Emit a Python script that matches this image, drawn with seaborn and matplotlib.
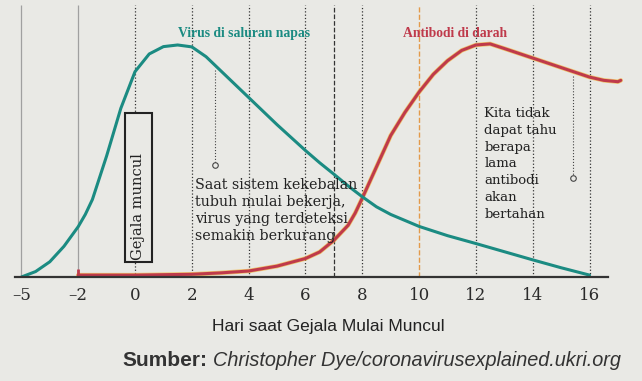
import numpy as np
import pandas as pd
import seaborn as sns
import matplotlib.pyplot as plt
from matplotlib.patches import Rectangle

# ---- data (x = axis position; the "-5" tick sits one step left of "-2") ----
tick_pos = [-4, -2, 0, 2, 4, 6, 8, 10, 12, 14, 16]
tick_labels = ['\u20135', '\u20132', '0', '2', '4', '6', '8', '10', '12', '14', '16']

virus_x = [-4, -3.5, -3, -2.5, -2, -1.75, -1.5, -1, -0.5, 0, 0.5, 1, 1.5, 2,
           2.5, 3, 3.5, 4, 5, 6, 6.5, 7, 7.5, 8, 8.5, 9, 10, 11, 12, 13, 14,
           15, 16]
virus_y = [0, 2, 5.6, 11.3, 18.5, 23, 28.5, 44.5, 62, 75.5, 82, 84.7, 85.3,
           84.6, 81, 76, 71, 66, 56, 46.5, 42, 37.8, 33.5, 29.5, 25.8, 23,
           18.6, 15.2, 12.3, 9.3, 6.3, 3.4, 0.7]

anti_x = [-2, 0, 2, 3, 4, 5, 6, 6.5, 7, 7.5, 7.75, 8, 8.5, 9, 9.5, 10, 10.5,
          11, 11.5, 12, 12.5, 13, 14, 15, 16, 16.5, 17, 17.1]
anti_y = [0.7, 0.7, 1, 1.5, 2.2, 4, 6.8, 9.2, 13.5, 19, 23.5, 29, 40.5, 52,
          60.5, 68, 74.5, 79.5, 83.3, 85.3, 85.7, 84, 80.5, 77, 73.5, 72.3,
          71.8, 72.3]

grid_solid = [-4, -2]
grid_dotted = [0, 2, 4, 6, 8, 12, 14, 16]
grid_dashed = [7]
grid_orange = [10]

virus_df = pd.DataFrame({'hari': virus_x, 'nilai': virus_y})
anti_df = pd.DataFrame({'hari': anti_x, 'nilai': anti_y})

# ---- style ----
sns.set_theme(style='white')
plt.rcParams['font.family'] = ['DejaVu Serif']
bg = '#e9e9e5'
teal = '#1b8b82'
red = '#bf3a4b'
ink = '#222222'

fig = plt.figure(figsize=(6.42, 3.81), dpi=100, facecolor=bg)
ax = fig.add_axes([15 / 642, 1 - 277 / 381, 593 / 642, 272 / 381])
ax.set_facecolor(bg)
ax.set_xlim(-4.225, 16.65)
ax.set_ylim(0, 100)

# vertical guide lines
ax.vlines(grid_solid, 0, 100, color='#a0a0a0', lw=0.9)
ax.vlines(grid_dotted, 0, 100, color='#333333', lw=0.9, linestyles=':')
ax.vlines(grid_dashed, 0, 100, color='#333333', lw=0.9, linestyles='--')
ax.vlines(grid_orange, 0, 100, color='#e39a4a', lw=1.0, linestyles='--')

# curves
sns.lineplot(data=anti_df, x='hari', y='nilai', ax=ax, color='#f2b53a',
             lw=3.2, alpha=0.7, clip_on=False)
sns.lineplot(data=anti_df, x='hari', y='nilai', ax=ax, color=red, lw=2.2,
             clip_on=False)
ax.vlines([-2], 0, 3, color=red, lw=2)
sns.lineplot(data=virus_df, x='hari', y='nilai', ax=ax, color=teal, lw=2.2)

# axis
for s in ['left', 'right', 'top']:
    ax.spines[s].set_visible(False)
ax.spines['bottom'].set_color('#333333')
ax.spines['bottom'].set_linewidth(1.6)
ax.set_xticks(tick_pos)
ax.set_xticklabels(tick_labels, fontsize=12, color='#2a2a2a')
ax.set_yticks([])
ax.tick_params(axis='x', direction='in', length=6, width=1.4,
               color='#333333', pad=7)
ax.set_xlabel('')
ax.set_ylabel('')

# curve titles
ax.text(3.85, 89.7, 'Virus di saluran napas', color=teal, fontsize=9.8,
        fontweight='bold', ha='center', va='center', family=['Liberation Serif'])
ax.text(11.25, 89.7, 'Antibodi di darah', color=red, fontsize=9.8,
        fontweight='bold', ha='center', va='center', family=['Liberation Serif'])

# "Gejala muncul" box
ax.add_patch(Rectangle((-0.35, 5.5), 0.95, 54.8, fc=bg, ec=ink, lw=1.5,
                       zorder=3))
ax.text(0.12, 26, 'Gejala muncul', rotation=90, fontsize=10.5, ha='center',
        va='center', color=ink, zorder=4)

# pin annotations
ax.plot([2.82, 2.82], [76, 41.8], color='#444444', lw=0.8, ls=':')
ax.plot(2.82, 41, 'o', ms=4, mfc=bg, mec='#444444', mew=0.8)
ax.text(2.1, 36.5, 'Saat sistem kekebalan\ntubuh mulai bekerja,\n'
        'virus yang terdeteksi\nsemakin berkurang', fontsize=10.3,
        ha='left', va='top', color=ink, linespacing=1.28)

ax.plot([15.42, 15.42], [74, 37.2], color='#444444', lw=0.8, ls=':')
ax.plot(15.42, 36.4, 'o', ms=4, mfc=bg, mec='#444444', mew=0.8)
ax.text(12.3, 62.5, 'Kita tidak\ndapat tahu\nberapa\nlama\nantibodi\nakan\nbertahan',
        fontsize=9.5, ha='left', va='top', color=ink, linespacing=1.38)


# x label and source, sized to the widths they take in the layout
def fit_width(t, px):
    fig.canvas.draw()
    w = t.get_window_extent().width
    t.set_fontsize(t.get_fontsize() * px / w)


sans = ['Liberation Sans', 'DejaVu Sans']
xl = fig.text(328 / 642, 1 - 326 / 381, 'Hari saat Gejala Mulai Muncul',
              fontsize=13, ha='center', va='center', color=ink, family=sans)
fit_width(xl, 232)
src_a = fig.text(207 / 642, 1 - 360 / 381, 'Sumber:', fontsize=14,
                 fontweight='bold', ha='right', va='center', color='#333333',
                 family=sans)
fit_width(src_a, 85)
src_b = fig.text(213 / 642, 1 - 360 / 381,
                 'Christopher Dye/coronavirusexplained.ukri.org', fontsize=14,
                 style='italic', ha='left', va='center', color='#333333',
                 family=sans)
fit_width(src_b, 410)

fig.savefig('out.png', dpi=100, facecolor=bg)
